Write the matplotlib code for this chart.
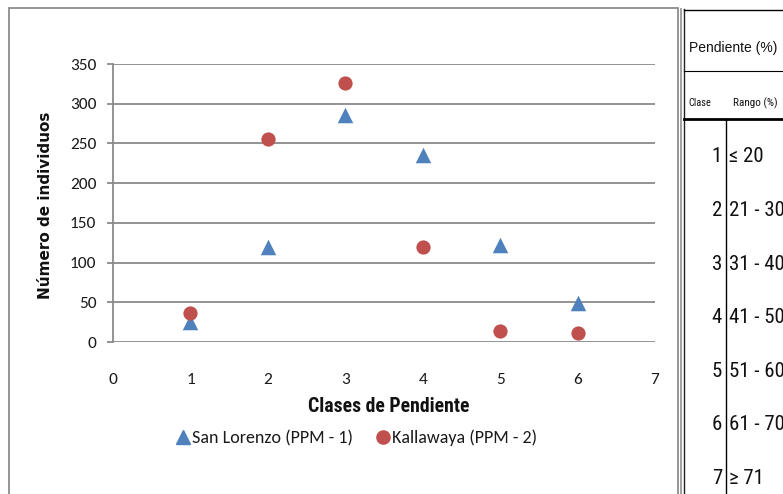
import matplotlib
matplotlib.use("Agg")
import matplotlib.pyplot as plt
from matplotlib import font_manager as fm
from matplotlib.lines import Line2D
from matplotlib.patches import Rectangle

# ---------------- data ----------------
clases = [1, 2, 3, 4, 5, 6]
san_lorenzo = [25, 120, 286, 236, 122, 49]
kallawaya = [37, 256, 326, 120, 14, 11]
series_labels = ["San Lorenzo (PPM - 1)", "Kallawaya (PPM - 2)"]
x_ticks = [0, 1, 2, 3, 4, 5, 6, 7]
y_ticks = [0, 50, 100, 150, 200, 250, 300, 350]
x_title = "Clases de Pendiente"
y_title = "Número de individuos"

table_header = "Pendiente (%)"
table_col1 = "Clase"
table_col2 = "Rango (%)"
table_clases = ["1", "2", "3", "4", "5", "6", "7"]
table_rangos = ["≤ 20", "21 - 30", "31 - 40", "41 - 50", "51 - 60", "61 - 70", "≥ 71"]

# ---------------- fonts ----------------
names = {f.name for f in fm.fontManager.ttflist}
def pick(*cands):
    for c in cands:
        if c in names:
            return c
    return "DejaVu Sans"

main_font = pick("Carlito", "Lato", "Open Sans", "Liberation Sans")
narrow_font = pick("Liberation Sans Narrow", "Roboto Condensed", "DejaVu Sans Condensed")
narrow_stretch = "normal" if narrow_font != "DejaVu Sans" else "condensed"
plain_font = pick("Liberation Sans", "DejaVu Sans")

W, H = 783, 494
fig = plt.figure(figsize=(W / 100, H / 100), dpi=100)

def fx(px):
    return px / W

def fy(py):
    return 1 - py / H

# axes: x=0 at px 113, x=7 at px 655; y=0 at px 342, y=350 at px 64
ax = fig.add_axes([fx(113), fy(342), fx(655) - fx(113), fy(64) - fy(342)])
ax.set_xlim(0, 7)
ax.set_ylim(0, 350)
ax.set_xticks(x_ticks)
ax.set_yticks(y_ticks)
ax.grid(axis="y", color="#8a8a8a", linewidth=1.3)
ax.set_axisbelow(True)
for s in ["top", "right", "bottom"]:
    ax.spines[s].set_visible(False)
ax.spines["left"].set_color("#8a8a8a")
ax.spines["left"].set_linewidth(1.3)
ax.tick_params(axis="y", length=4, width=1.3, color="#8a8a8a", pad=8,
               labelsize=12.5, labelcolor="#1a1a1a")
ax.tick_params(axis="x", length=0, pad=22, labelsize=12.5, labelcolor="#1a1a1a")
for lab in ax.get_xticklabels() + ax.get_yticklabels():
    lab.set_fontfamily(main_font)

ax.scatter(clases, san_lorenzo, marker="^", s=125, color="#4f81bd",
           zorder=3, clip_on=False, linewidths=0)
ax.scatter(clases, kallawaya, marker="o", s=105, color="#c0504d",
           zorder=3, clip_on=False, linewidths=0)

# axis titles
fig.text(fx(389), fy(407), x_title, ha="center", va="center",
         fontsize=14.2, fontweight="bold", family=narrow_font,
         fontstretch=narrow_stretch, color="#111111")
fig.text(fx(46), fy(205), y_title, ha="center", va="center", rotation=90,
         fontsize=11, fontweight="bold", family="DejaVu Sans",
         color="#111111")

# legend
handles = [
    Line2D([], [], marker="^", linestyle="none", color="#4f81bd", markersize=10),
    Line2D([], [], marker="o", linestyle="none", color="#c0504d", markersize=9.5),
]
leg = fig.legend(handles, series_labels, loc="center",
                 bbox_to_anchor=(fx(357), fy(438)), ncol=2, frameon=False,
                 handlelength=0.7, handletextpad=0.15, columnspacing=1.3,
                 prop={"family": main_font, "size": 13})
for t in leg.get_texts():
    t.set_color("#1a1a1a")

# chart border
fig.add_artist(Rectangle((fx(9), fy(520)), fx(678) - fx(9), fy(8) - fy(520),
                         transform=fig.transFigure, fill=False,
                         edgecolor="#8c8c8c", linewidth=1.3, clip_on=False))

# ---------------- side table ----------------
def hline(y, x0, x1, lw, color="black"):
    fig.add_artist(Line2D([fx(x0), fx(x1)], [fy(y), fy(y)],
                          transform=fig.transFigure, color=color, linewidth=lw))

def vline(x, y0, y1, lw, color="black"):
    fig.add_artist(Line2D([fx(x), fx(x)], [fy(y0), fy(y1)],
                          transform=fig.transFigure, color=color, linewidth=lw))

vline(681, 9, 500, 1.3, "#9a9a9a")
vline(684, 9, 500, 1.0, "#222222")
hline(10, 684, 790, 1.0)
hline(71, 684, 790, 0.8)
hline(119, 684, 790, 2.0)
vline(726, 119, 500, 1.0)

fig.text(fx(689), fy(48), table_header, ha="left", va="center",
         fontsize=10, family=plain_font, color="#111111")
fig.text(fx(688), fy(103), table_col1, ha="left", va="center",
         fontsize=7.5, family=narrow_font, fontstretch=narrow_stretch, color="#111111")
fig.text(fx(733), fy(103), table_col2, ha="left", va="center",
         fontsize=8, family=narrow_font, fontstretch=narrow_stretch, color="#111111")

row_y0, row_dy = 157, 53.5
for i, (c, r) in enumerate(zip(table_clases, table_rangos)):
    y = row_y0 + i * row_dy
    fig.text(fx(722), fy(y), c, ha="right", va="center", fontsize=15,
             family=narrow_font, fontstretch=narrow_stretch, color="#111111")
    fig.text(fx(729), fy(y), r, ha="left", va="center", fontsize=15,
             family=[narrow_font, "DejaVu Sans"], fontstretch=narrow_stretch,
             color="#111111")

fig.savefig("out.png", dpi=100, facecolor="white")
